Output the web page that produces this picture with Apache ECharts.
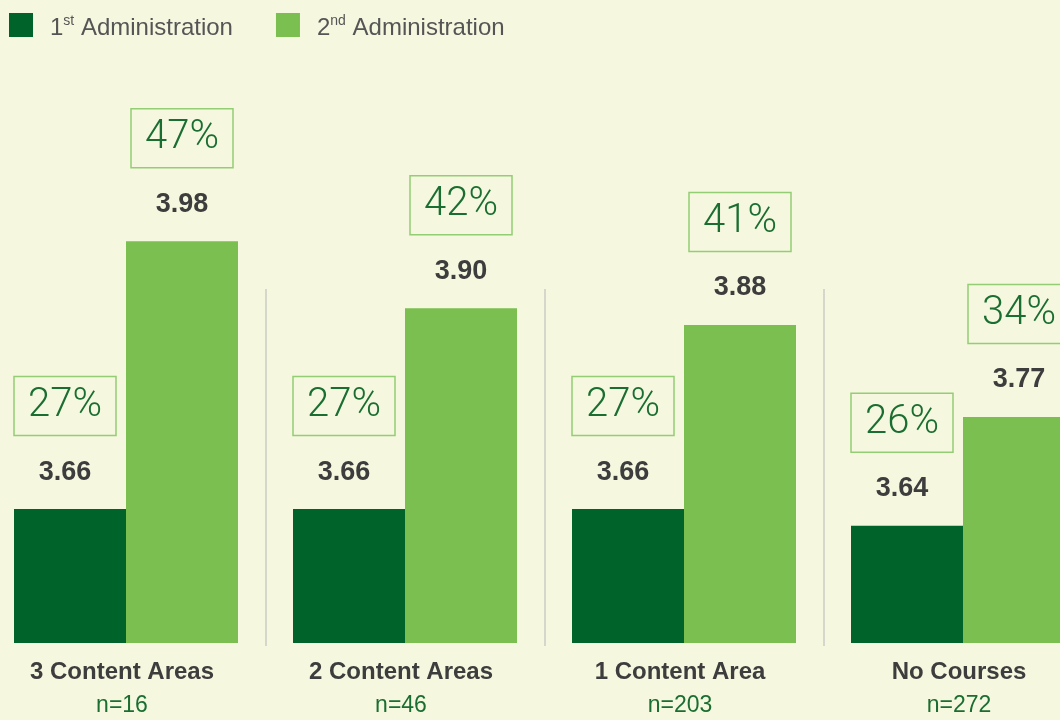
<!DOCTYPE html>
<html>
<head>
<meta charset="utf-8">
<script src="https://cdn.jsdelivr.net/npm/echarts@6/dist/echarts.min.js"></script>
<style>
  html, body { margin: 0; padding: 0; background: #f5f7df; }
  #chart { width: 1060px; height: 720px; }
</style>
</head>
<body>
<div id="chart"></div>
<script>
// values
var categories = ['3 Content Areas', '2 Content Areas', '1 Content Area', 'No Courses'];
var sampleSizes = ['n=16', 'n=46', 'n=203', 'n=272'];
var firstAdmin = [3.66, 3.66, 3.66, 3.64];
var secondAdmin = [3.98, 3.90, 3.88, 3.77];
var firstPct = [27, 27, 27, 26];
var secondPct = [47, 42, 41, 34];

var DARK = '#00632a';
var LIGHT = '#7abf4f';
var TEXT = '#3d3d3d';
var PCT = '#1b6e31';
var BOX = '#93cd74';

function barLabel(pcts, offsetX) {
    return {
        show: true,
        position: 'top',
        distance: 1,
        offset: [offsetX, 0],
        formatter: function (p) {
            return '{p|' + pcts[p.dataIndex] + '%}\n{v|' + p.value.toFixed(2) + '}';
        },
        rich: {
            p: {
                fontFamily: 'Roboto',
                fontWeight: 300,
                fontSize: 40,
                color: PCT,
                width: 102,
                height: 59,
                lineHeight: 60,
                align: 'center',
                borderColor: BOX,
                borderWidth: 1.5
            },
            v: {
                fontFamily: 'Liberation Sans',
                fontWeight: 'bold',
                fontSize: 27,
                color: TEXT,
                lineHeight: 72,
                align: 'center'
            }
        }
    };
}

var chart = echarts.init(document.getElementById('chart'));
chart.setOption({
    backgroundColor: '#f5f7df',
    animation: false,
    textStyle: { fontFamily: 'Liberation Sans' },
    legend: {
        left: 4,
        top: 8,
        itemWidth: 24,
        itemHeight: 24,
        itemGap: 43,
        icon: 'rect',
        formatter: function (name) {
            return name === 'first'
                ? '{n|1}{s|st}{t| Administration}'
                : '{n|2}{s|nd}{t| Administration}';
        },
        textStyle: {
            rich: {
                n: { fontSize: 24, color: '#555', padding: [7, 0, 0, 12] },
                s: { fontSize: 14, color: '#555', padding: [0, 0, 8, 0] },
                t: { fontSize: 24, color: '#555', padding: [7, 0, 0, 0] }
            }
        },
        data: ['first', 'second']
    },
    grid: [
        { left: -13.5, width: 1116, top: 57, bottom: 77, outerBoundsMode: 'none' },
        { left: -13.5, width: 1116, top: 289, bottom: 74, outerBoundsMode: 'none' }
    ],
    xAxis: [
        {
            type: 'category',
            gridIndex: 0,
            data: categories,
            axisLine: { show: false },
            axisTick: { show: false },
            axisLabel: {
                margin: 12,
                padding: [0, 8, 0, 0],
                formatter: function (val, i) {
                    return '{a|' + val + '}\n{b|' + sampleSizes[i] + '}';
                },
                rich: {
                    a: { fontSize: 24, fontWeight: 'bold', color: TEXT, lineHeight: 34 },
                    b: { fontSize: 23, color: PCT, lineHeight: 34 }
                }
            }
        },
        {
            type: 'category',
            gridIndex: 1,
            data: categories,
            axisLine: { show: false },
            axisTick: { show: false },
            axisLabel: { show: false },
            splitLine: { show: true, lineStyle: { color: '#d6d7cc', width: 2 } }
        }
    ],
    yAxis: [
        { type: 'value', gridIndex: 0, min: 3.5, max: 4.2, show: false },
        { type: 'value', gridIndex: 1, min: 0, max: 1, show: false }
    ],
    series: [
        {
            name: 'first',
            type: 'bar',
            data: firstAdmin,
            barWidth: 112,
            barGap: '0%',
            itemStyle: { color: DARK },
            label: barLabel(firstPct, -5)
        },
        {
            name: 'second',
            type: 'bar',
            data: secondAdmin,
            barWidth: 112,
            barGap: '0%',
            itemStyle: { color: LIGHT },
            label: barLabel(secondPct, 0)
        }
    ]
});
</script>
</body>
</html>
